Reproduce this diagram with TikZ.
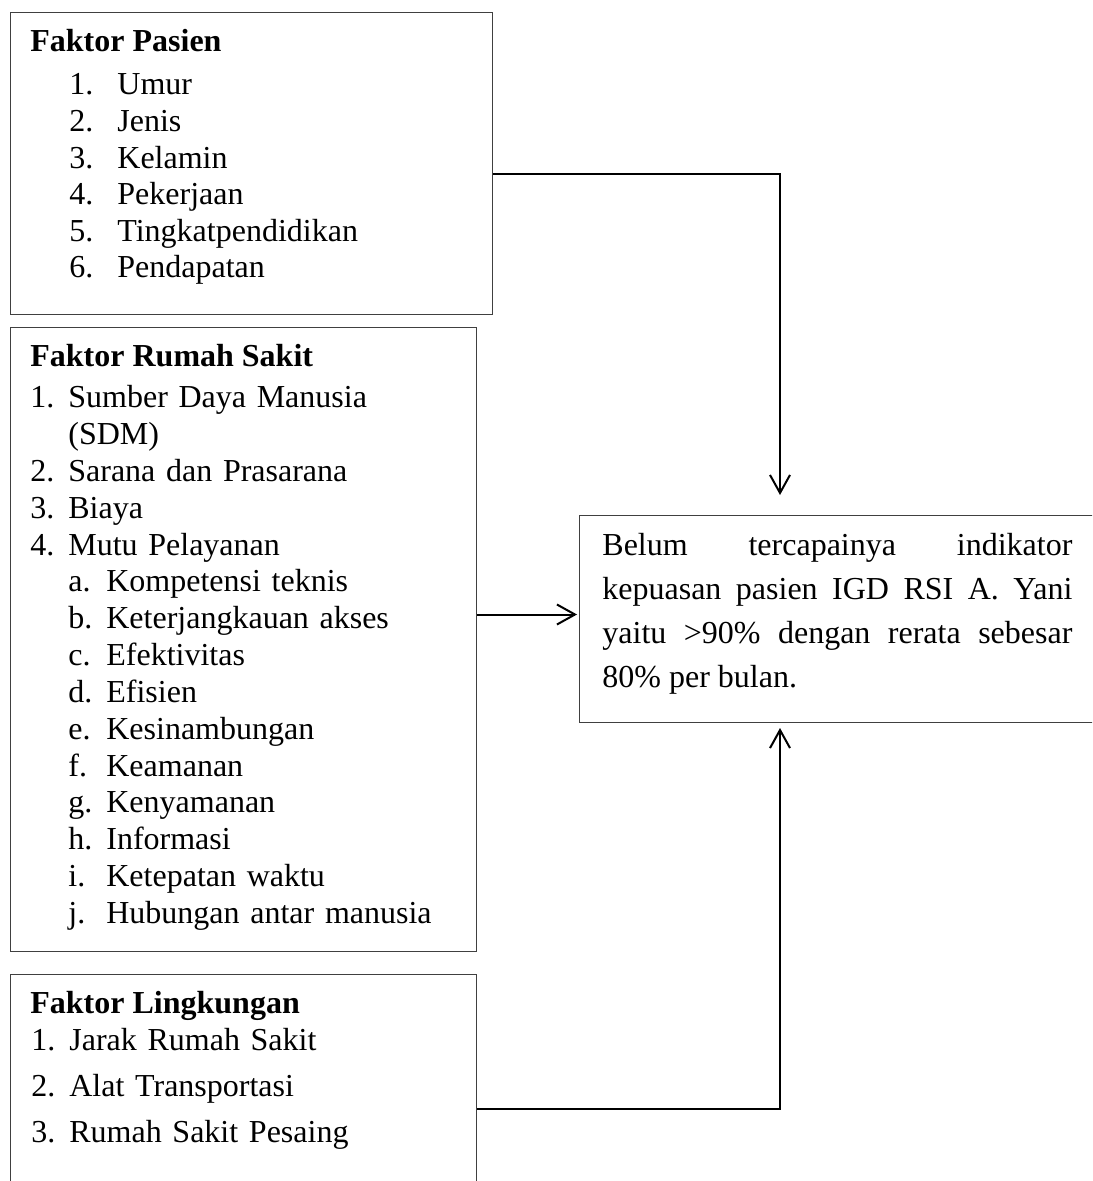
\documentclass[tikz,border=0pt]{standalone}
\usepackage{fontspec}
\setmainfont{Liberation Serif}
\usetikzlibrary{arrows.meta,positioning}

\newcommand{\nomor}[2][19pt]{\makebox[#1][l]{#2}}

\tikzset{
  kotak/.style={draw=black!75, line width=0.5pt, rectangle, inner sep=0pt, anchor=north west},
  judul/.style={anchor=base west, inner sep=0pt, font=\fontsize{16}{18.4}\selectfont\bfseries},
  daftar/.style={anchor=base west, inner sep=0pt, text width=225pt, align=left,
    font=\fontsize{16}{18.4}\selectfont},
  panah/.style={draw=black, line width=1pt, -{Straight Barb[length=9pt,width=10pt]}},
}

\begin{document}
\begin{tikzpicture}[x=0.5pt,y=-0.5pt]
  \useasboundingbox (0,0) rectangle (1092,1181);
  \clip (0,0) rectangle (1092,1181);

  % kotak-kotak faktor
  \node[kotak, minimum width=241pt, minimum height=151pt] (pasien) at (10,12) {};
  \node[kotak, minimum width=233pt, minimum height=312pt] (rs) at (10,327) {};
  \node[kotak, minimum width=233pt, minimum height=130pt] (lingk) at (10,974) {};
  \node[kotak, minimum width=270pt, minimum height=103.5pt] (hasil) at (579,515) {};

  % isi faktor pasien
  \node[judul] (judulpasien) at (30,52) {Faktor Pasien};
  \node[daftar, font=\fontsize{16}{18.3}\selectfont] (isipasien) at (69,95) {%
    \nomor[24pt]{1.}Umur\\
    \nomor[24pt]{2.}Jenis\\
    \nomor[24pt]{3.}Kelamin\\
    \nomor[24pt]{4.}Pekerjaan\\
    \nomor[24pt]{5.}Tingkatpendidikan\\
    \nomor[24pt]{6.}Pendapatan};

  % isi faktor rumah sakit
  \node[judul] (judulrs) at (30,367) {Faktor Rumah Sakit};
  \node[daftar] (isirs) at (30,408) {%
    \nomor{1.}Sumber Daya Manusia\\
    \hspace*{19pt}(SDM)\\
    \nomor{2.}Sarana dan Prasarana\\
    \nomor{3.}Biaya\\
    \nomor{4.}Mutu Pelayanan\\
    \hspace*{19pt}\nomor{a.}Kompetensi teknis\\
    \hspace*{19pt}\nomor{b.}Keterjangkauan akses\\
    \hspace*{19pt}\nomor{c.}Efektivitas\\
    \hspace*{19pt}\nomor{d.}Efisien\\
    \hspace*{19pt}\nomor{e.}Kesinambungan\\
    \hspace*{19pt}\nomor{f.}Keamanan\\
    \hspace*{19pt}\nomor{g.}Kenyamanan\\
    \hspace*{19pt}\nomor{h.}Informasi\\
    \hspace*{19pt}\nomor{i.}Ketepatan waktu\\
    \hspace*{19pt}\nomor{j.}Hubungan antar manusia};

  % isi faktor lingkungan
  \node[judul] (judullingk) at (30,1013) {Faktor Lingkungan};
  \node[daftar, font=\fontsize{16}{23}\selectfont] (isilingk) at (31,1050) {%
    \nomor{1.}Jarak Rumah Sakit\\
    \nomor{2.}Alat Transportasi\\
    \nomor{3.}Rumah Sakit Pesaing};

  % masalah
  \node[anchor=base west, inner sep=0pt, text width=235pt, align=justify,
    font=\fontsize{16}{22}\selectfont] (isihasil) at (602,555) {%
    \frenchspacing Belum tercapainya indikator\linebreak
    kepuasan pasien IGD RSI A. Yani\linebreak
    yaitu >90\% dengan rerata sebesar\linebreak
    80\% per bulan.};

  % panah
  \coordinate (keluarpasien) at ([yshift=-5.5pt]pasien.east);
  \coordinate (keluarrs) at ([yshift=12.5pt]rs.east);
  \coordinate (keluarlingk) at ([yshift=-67.5pt]lingk.north east);
  \coordinate (masukatas) at ([xshift=100.5pt]hasil.north west);
  \coordinate (masukbawah) at ([xshift=100.5pt]hasil.south west);
  \draw[panah, shorten >=10pt] (keluarpasien) -| (masukatas);
  \draw[panah, shorten >=1pt] (keluarrs) -- (keluarrs -| hasil.west);
  \draw[panah, shorten >=2.5pt] (keluarlingk) -| (masukbawah);
\end{tikzpicture}
\end{document}
